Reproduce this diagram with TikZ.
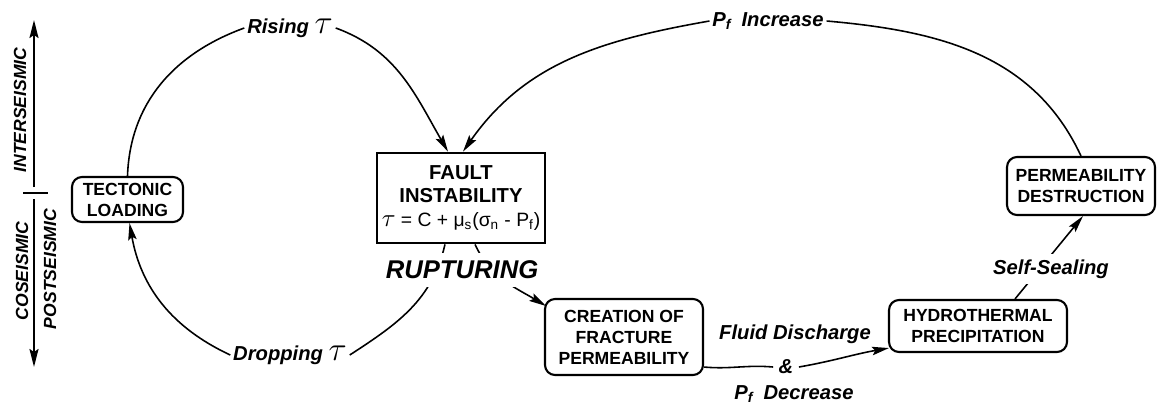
\documentclass[tikz,border=0pt]{standalone}
\usepackage{fontspec}
\usepackage{graphicx}
\setmainfont{Liberation Sans}
\usetikzlibrary{arrows.meta,calc}
\pgfdeclarelayer{background}
\pgfsetlayers{background,main}
\begin{document}
\begin{tikzpicture}[x=0.02cm,y=-0.02cm,
  box/.style={draw,line width=1.2pt,rounded corners=0.2cm,align=center,font=\fontsize{10}{12}\selectfont\bfseries,inner sep=0pt},
  fbox/.style={draw,line width=1.6pt,align=center,inner sep=0pt,font=\fontsize{11.5}{13}\selectfont\bfseries},
  lbl/.style={font=\fontsize{11.5}{13}\selectfont\bfseries\itshape,inner sep=1.5pt},
  conn/.style={line width=0.9pt},
  arr/.style={conn,-{Stealth[length=3.4mm,width=1.7mm,inset=0.6mm]}},
  axline/.style={line width=1.1pt,-{Stealth[length=3.6mm,width=1.8mm,inset=0.6mm]}},
  axl/.style={font=\fontsize{10}{12}\selectfont\bfseries\itshape,rotate=90,inner sep=0pt}]

\path[use as bounding box] (0,0) rectangle (1157,407);

% boxes
\node[box,minimum width=2.22cm,minimum height=0.9cm] (tect) at (127.5,199.5) {TECTONIC\\LOADING};
\node[fbox,minimum width=3.36cm,minimum height=1.8cm] (fault) at (461,198)
  {FAULT\\INSTABILITY\\[1pt]{\mdseries\fontsize{11}{13}\selectfont\scalebox{1.3}{$\tau$} = C + μ\textsubscript{s}(σ\textsubscript{n} - P\textsubscript{f})}};
\node[box,minimum width=3.16cm,minimum height=1.52cm] (creation) at (624,337) {CREATION OF\\FRACTURE\\PERMEABILITY};
\node[box,minimum width=3.56cm,minimum height=1.04cm,font=\fontsize{10}{12.4}\selectfont\bfseries] (hydro) at (978,326) {HYDROTHERMAL\\PRECIPITATION};
\node[box,minimum width=2.96cm,minimum height=1.16cm] (perm) at (1081,186) {PERMEABILITY\\DESTRUCTION};

% labels
\node[lbl] (rising) at (290,28) {Rising \scalebox{1.6}{$\tau$}};
\node[lbl] (dropping) at (290,355) {Dropping \scalebox{1.6}{$\tau$}};
\node[lbl] (pinc) at (768,21) {P\textsubscript{f}\hspace{0.5em}Increase};
\node[lbl,fill=white,font=\fontsize{14.6}{16}\selectfont\bfseries\itshape,inner xsep=2pt,inner ysep=4.5pt] (rupt) at (462,270) {RUPTURING};
\node[lbl] (fluid) at (795,334) {Fluid Discharge};
\node[lbl,inner xsep=3pt] (amp) at (786,367) {\&};
\node[lbl] (pdec) at (794,394) {P\textsubscript{f}\hspace{0.5em}Decrease};
\node[lbl,fill=white,inner ysep=3pt] (seal) at (1051,269) {Self-Sealing};

% left axis
\coordinate (axtop) at (34,20);
\coordinate (axup) at (34,187);
\coordinate (axdn) at (34,199);
\coordinate (axbot) at (34,367);
\coordinate (tickl) at (23,193);
\coordinate (tickr) at (48,193);
\draw[axline] (axup) -- (axtop);
\draw[axline] (axdn) -- (axbot);
\draw[line width=1.6pt] (tickl) -- (tickr);
\node[axl] (inter) at (20,110) {INTERSEISMIC};
\node[axl] (co) at (22,271) {COSEISMIC};
\node[axl] (post) at (50,269) {POSTSEISMIC};

% connectors
\begin{pgfonlayer}{background}
\draw[conn] (tect.north) to[out=88,in=200] (rising.west);
\draw[arr] (rising.east) to[out=-20,in=120] ($(fault.north)+(-13,0)$);
\draw[conn] ($(fault.south)+(-16,0)$) to[out=-103,in=33] (dropping.east);
\draw[arr] (dropping.west) to[out=155,in=-80] ($(tect.south)+(2,0)$);
\draw[arr] ($(fault.south)+(14,0)$) to[out=-65,in=149] ($(creation.north west)+(2,8)$);
\draw[arr] (pinc.west) to[out=190,in=55] ($(fault.north)+(2,0)$);
\draw[conn] (pinc.east) to[out=-5,in=115] (perm.north);
\draw[conn] ($(creation.south east)+(0,-9)$) to[out=-5,in=175] (amp.west);
\draw[arr] (amp.east) to[out=10,in=190] ($(hydro.south west)+(1,-5)$);
\draw[arr] ($(hydro.north)+(37,0)$) -- ($(perm.south)+(2,0)$);
\end{pgfonlayer}
\end{tikzpicture}
\end{document}
